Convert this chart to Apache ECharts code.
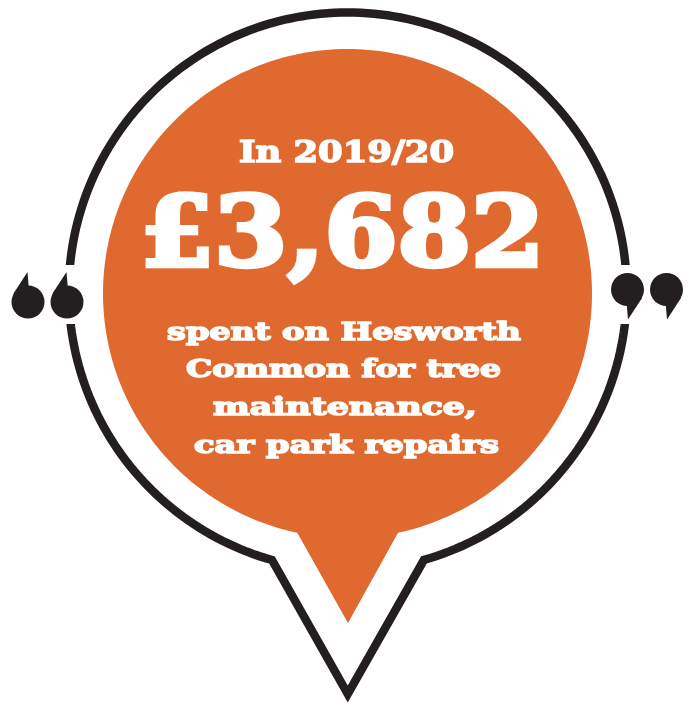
<!DOCTYPE html>
<html>
<head>
<meta charset="utf-8">
<script src="https://cdn.jsdelivr.net/npm/echarts@6/dist/echarts.min.js"></script>
<style>
html,body{margin:0;padding:0;background:#ffffff;}
#chart{width:692px;height:705px;}
</style>
</head>
<body>
<div id="chart"></div>
<script>
// ---- data ----
const yearLabel = ['In 2019/20'];
const amountValue = [3682];
const currencySymbol = ['£'];
const descriptionLines = ['spent on Hesworth', 'Common for tree', 'maintenance,', 'car park repairs'];

// ---- style / layout ----
const ORANGE = '#E0692F';
const BLACK = '#231F20';
const FONT = '"DejaVu Serif", "Liberation Serif", serif';

const ctx = document.createElement('canvas').getContext('2d');
function measure(text, size) {
  ctx.font = 'bold ' + size + 'px ' + FONT;
  return ctx.measureText(text).width;
}
function fitText(text, cx, cy, size, targetWidth, stroke) {
  const w = measure(text, size) + stroke;
  return {
    type: 'text', x: cx, y: cy, scaleX: targetWidth / w, z: 10,
    style: { text: text, fill: '#ffffff', stroke: '#ffffff', lineWidth: stroke,
             font: 'bold ' + size + 'px ' + FONT,
             textAlign: 'center', textVerticalAlign: 'middle' }
  };
}
function arcPoints(cx, cy, r, a0, a1, n) {
  const pts = [];
  for (let i = 0; i <= n; i++) {
    const a = (a0 + (a1 - a0) * i / n) * Math.PI / 180;
    pts.push([cx + r * Math.cos(a), cy + r * Math.sin(a)]);
  }
  return pts;
}
function angleOf(cx, cy, x, y) { return Math.atan2(y - cy, x - cx) * 180 / Math.PI; }

// outer outline
const oc = [347.75, 291.5], orad = 279;
const outerL = [272, 560], outerR = [424, 560], outerTip = [347.75, 694];
const outerPts = arcPoints(oc[0], oc[1], orad,
  angleOf(oc[0], oc[1], outerL[0], outerL[1]),
  angleOf(oc[0], oc[1], outerR[0], outerR[1]) + 360, 240);
outerPts.push(outerTip);

// orange bubble
const ic = [347.5, 293.5], irad = 244.5;
const innerL = [297, 534], innerR = [398.3, 534], innerTip = [348, 623];
const innerPts = arcPoints(ic[0], ic[1], irad,
  angleOf(ic[0], ic[1], innerL[0], innerL[1]),
  angleOf(ic[0], ic[1], innerR[0], innerR[1]) + 360, 240);
innerPts.push(innerTip);

function quoteMark(cx, cy, flip) {
  const s = flip ? -1 : 1;
  const r = 16.5;
  return [
    { type: 'circle', z: 6, shape: { cx: cx, cy: cy, r: r }, style: { fill: BLACK } },
    { type: 'polygon', z: 6, shape: { points: [[cx - s * 2, cy], [cx + s * 14.5, cy + s * 8.5], [cx + s * 0.5, cy + s * 30]] }, style: { fill: BLACK } }
  ];
}

const amountText = currencySymbol[0] + amountValue[0].toLocaleString('en-GB');

const graphics = [
  { type: 'polygon', z: 1, shape: { points: outerPts }, style: { fill: '#ffffff', stroke: BLACK, lineWidth: 8.5, lineJoin: 'miter', miterLimit: 10 } },
  { type: 'rect', z: 3, shape: { x: 56, y: 265, width: 26, height: 59 }, style: { fill: '#ffffff' } },
  { type: 'rect', z: 3, shape: { x: 613, y: 265, width: 26, height: 59 }, style: { fill: '#ffffff' } },
  { type: 'polygon', z: 4, shape: { points: innerPts }, style: { fill: ORANGE } },
  fitText(yearLabel[0], 346.5, 154, 30.5, 217, 1.6),
  fitText(amountText, 342.5, 241, 97, 409, 4.5)
];
const lineCenters = [344, 343.5, 345, 346.5];
const lineWidths = [356, 317, 266, 307];
const lineYs = [334, 371, 409, 447];
descriptionLines.forEach(function (t, i) {
  graphics.push(fitText(t, lineCenters[i], lineYs[i], 24.5, lineWidths[i], 1.5));
});
[].concat(quoteMark(28, 302, true), quoteMark(67, 302, true),
          quoteMark(627.5, 289.5, false), quoteMark(666.5, 289.5, false))
  .forEach(function (g) { graphics.push(g); });

const chart = echarts.init(document.getElementById('chart'), null, { renderer: 'canvas' });
chart.setOption({
  backgroundColor: '#ffffff',
  animation: false,
  graphic: graphics
});
</script>
</body>
</html>
